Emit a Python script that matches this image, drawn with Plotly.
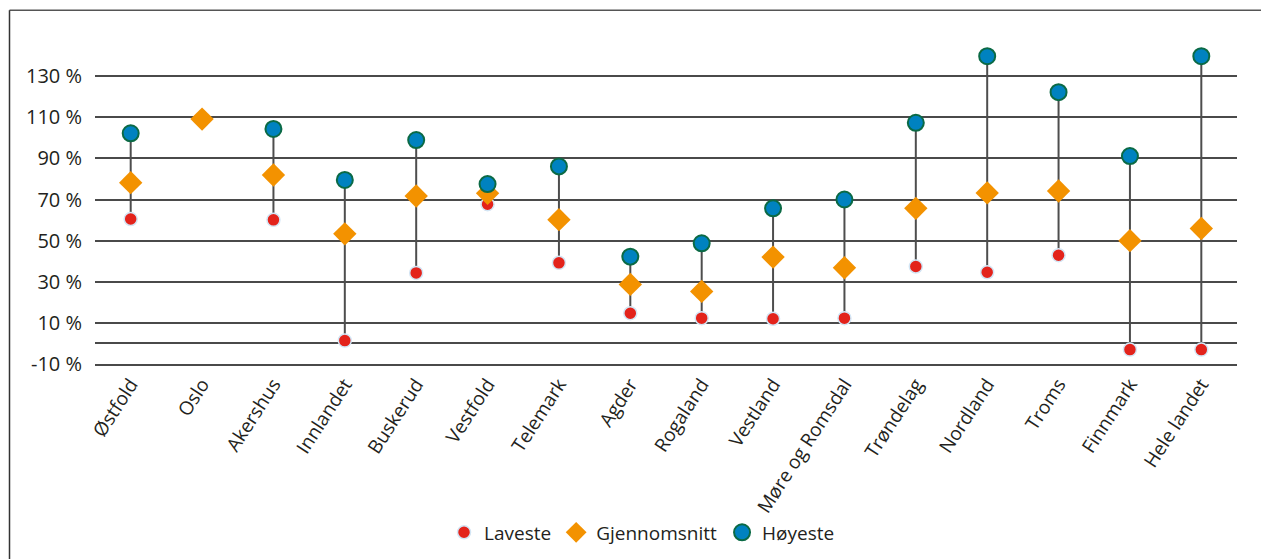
import plotly.graph_objects as go

fylker = [
    "Østfold", "Oslo", "Akershus", "Innlandet", "Buskerud", "Vestfold",
    "Telemark", "Agder", "Rogaland", "Vestland", "Møre og Romsdal",
    "Trøndelag", "Nordland", "Troms", "Finnmark", "Hele landet",
]
laveste = [60.5, None, 60.1, 1.4, 34.3, 67.7, 39.2, 14.7, 12.3, 12.0, 12.3,
           37.4, 34.6, 42.9, -3.0, -3.0]
snitt = [78.2, 109.1, 81.9, 53.3, 71.7, 73.0, 60.2, 28.7, 25.3, 42.0, 36.8,
         65.7, 73.2, 74.1, 50.0, 55.9]
hoyeste = [102.2, None, 104.3, 79.5, 98.9, 77.5, 86.1, 42.2, 48.7, 65.7, 70.0,
           107.3, 139.7, 122.2, 91.1, 139.7]

tick_vals = [-10, 10, 30, 50, 70, 90, 110, 130]
tick_text = ["-10 %", "10 %", "30 %", "50 %", "70 %", "90 %", "110 %", "130 %"]

FONT = "Open Sans, Noto Sans, sans-serif"
GRID = "#4a4a4a"

# strek fra laveste til hoyeste
lx, ly = [], []
for f, lo, hi in zip(fylker, laveste, hoyeste):
    if lo is None or hi is None:
        continue
    lx += [f, f, None]
    ly += [lo, hi, None]

fig = go.Figure()
fig.add_trace(go.Scatter(
    x=lx, y=ly, mode="lines", line=dict(color="#4d4d4d", width=2),
    showlegend=False, hoverinfo="skip",
))
fig.add_trace(go.Scatter(
    x=fylker, y=laveste, mode="markers", name="Laveste",
    marker=dict(symbol="circle", size=13, color="#e3231b",
                line=dict(color="#d3e6f5", width=1.5)),
))
fig.add_trace(go.Scatter(
    x=fylker, y=snitt, mode="markers", name="Gjennomsnitt",
    marker=dict(symbol="diamond", size=18, color="#f39200",
                line=dict(width=0)),
))
fig.add_trace(go.Scatter(
    x=fylker, y=hoyeste, mode="markers", name="Høyeste",
    marker=dict(symbol="circle", size=16, color="#0082c0",
                line=dict(color="#0b6a45", width=2)),
))

# ramme oppe og til venstre
x_left = (9.5 - 95) / 1142
y_top = (364.3 - 10) / 329.5
y_bot = (364.3 - 570) / 329.5
fig.add_shape(type="line", xref="paper", yref="paper",
              x0=x_left, x1=1.1, y0=y_top, y1=y_top,
              line=dict(color="#555555", width=1.5))
fig.add_shape(type="line", xref="paper", yref="paper",
              x0=x_left, x1=x_left, y0=y_bot, y1=y_top,
              line=dict(color="#333333", width=1.5))

fig.update_layout(
    width=1269, height=559,
    margin=dict(l=87, r=40, t=27, b=203),
    paper_bgcolor="white", plot_bgcolor="white",
    font=dict(family=FONT, size=20, color="#231f20"),
    showlegend=True,
    legend=dict(orientation="h", x=0.479, xanchor="center", y=-0.512,
                yanchor="middle", font=dict(size=19), itemwidth=30,
                traceorder="normal"),
    xaxis=dict(
        type="category", categoryorder="array", categoryarray=fylker,
        range=[-0.5, 15.5], tickangle=-57,
        showgrid=False, zeroline=False,
        showline=True, linecolor=GRID, linewidth=1.5, ticks="",
        tickfont=dict(size=19),
    ),
    yaxis=dict(
        range=[-10, 150], tickvals=tick_vals, ticktext=tick_text,
        showgrid=True, gridcolor=GRID, gridwidth=1.5,
        zeroline=True, zerolinecolor=GRID, zerolinewidth=1.5,
        showline=False, ticks="", tickfont=dict(size=20),
        ticklabelstandoff=12,
    ),
)

fig.write_html("out.html")
